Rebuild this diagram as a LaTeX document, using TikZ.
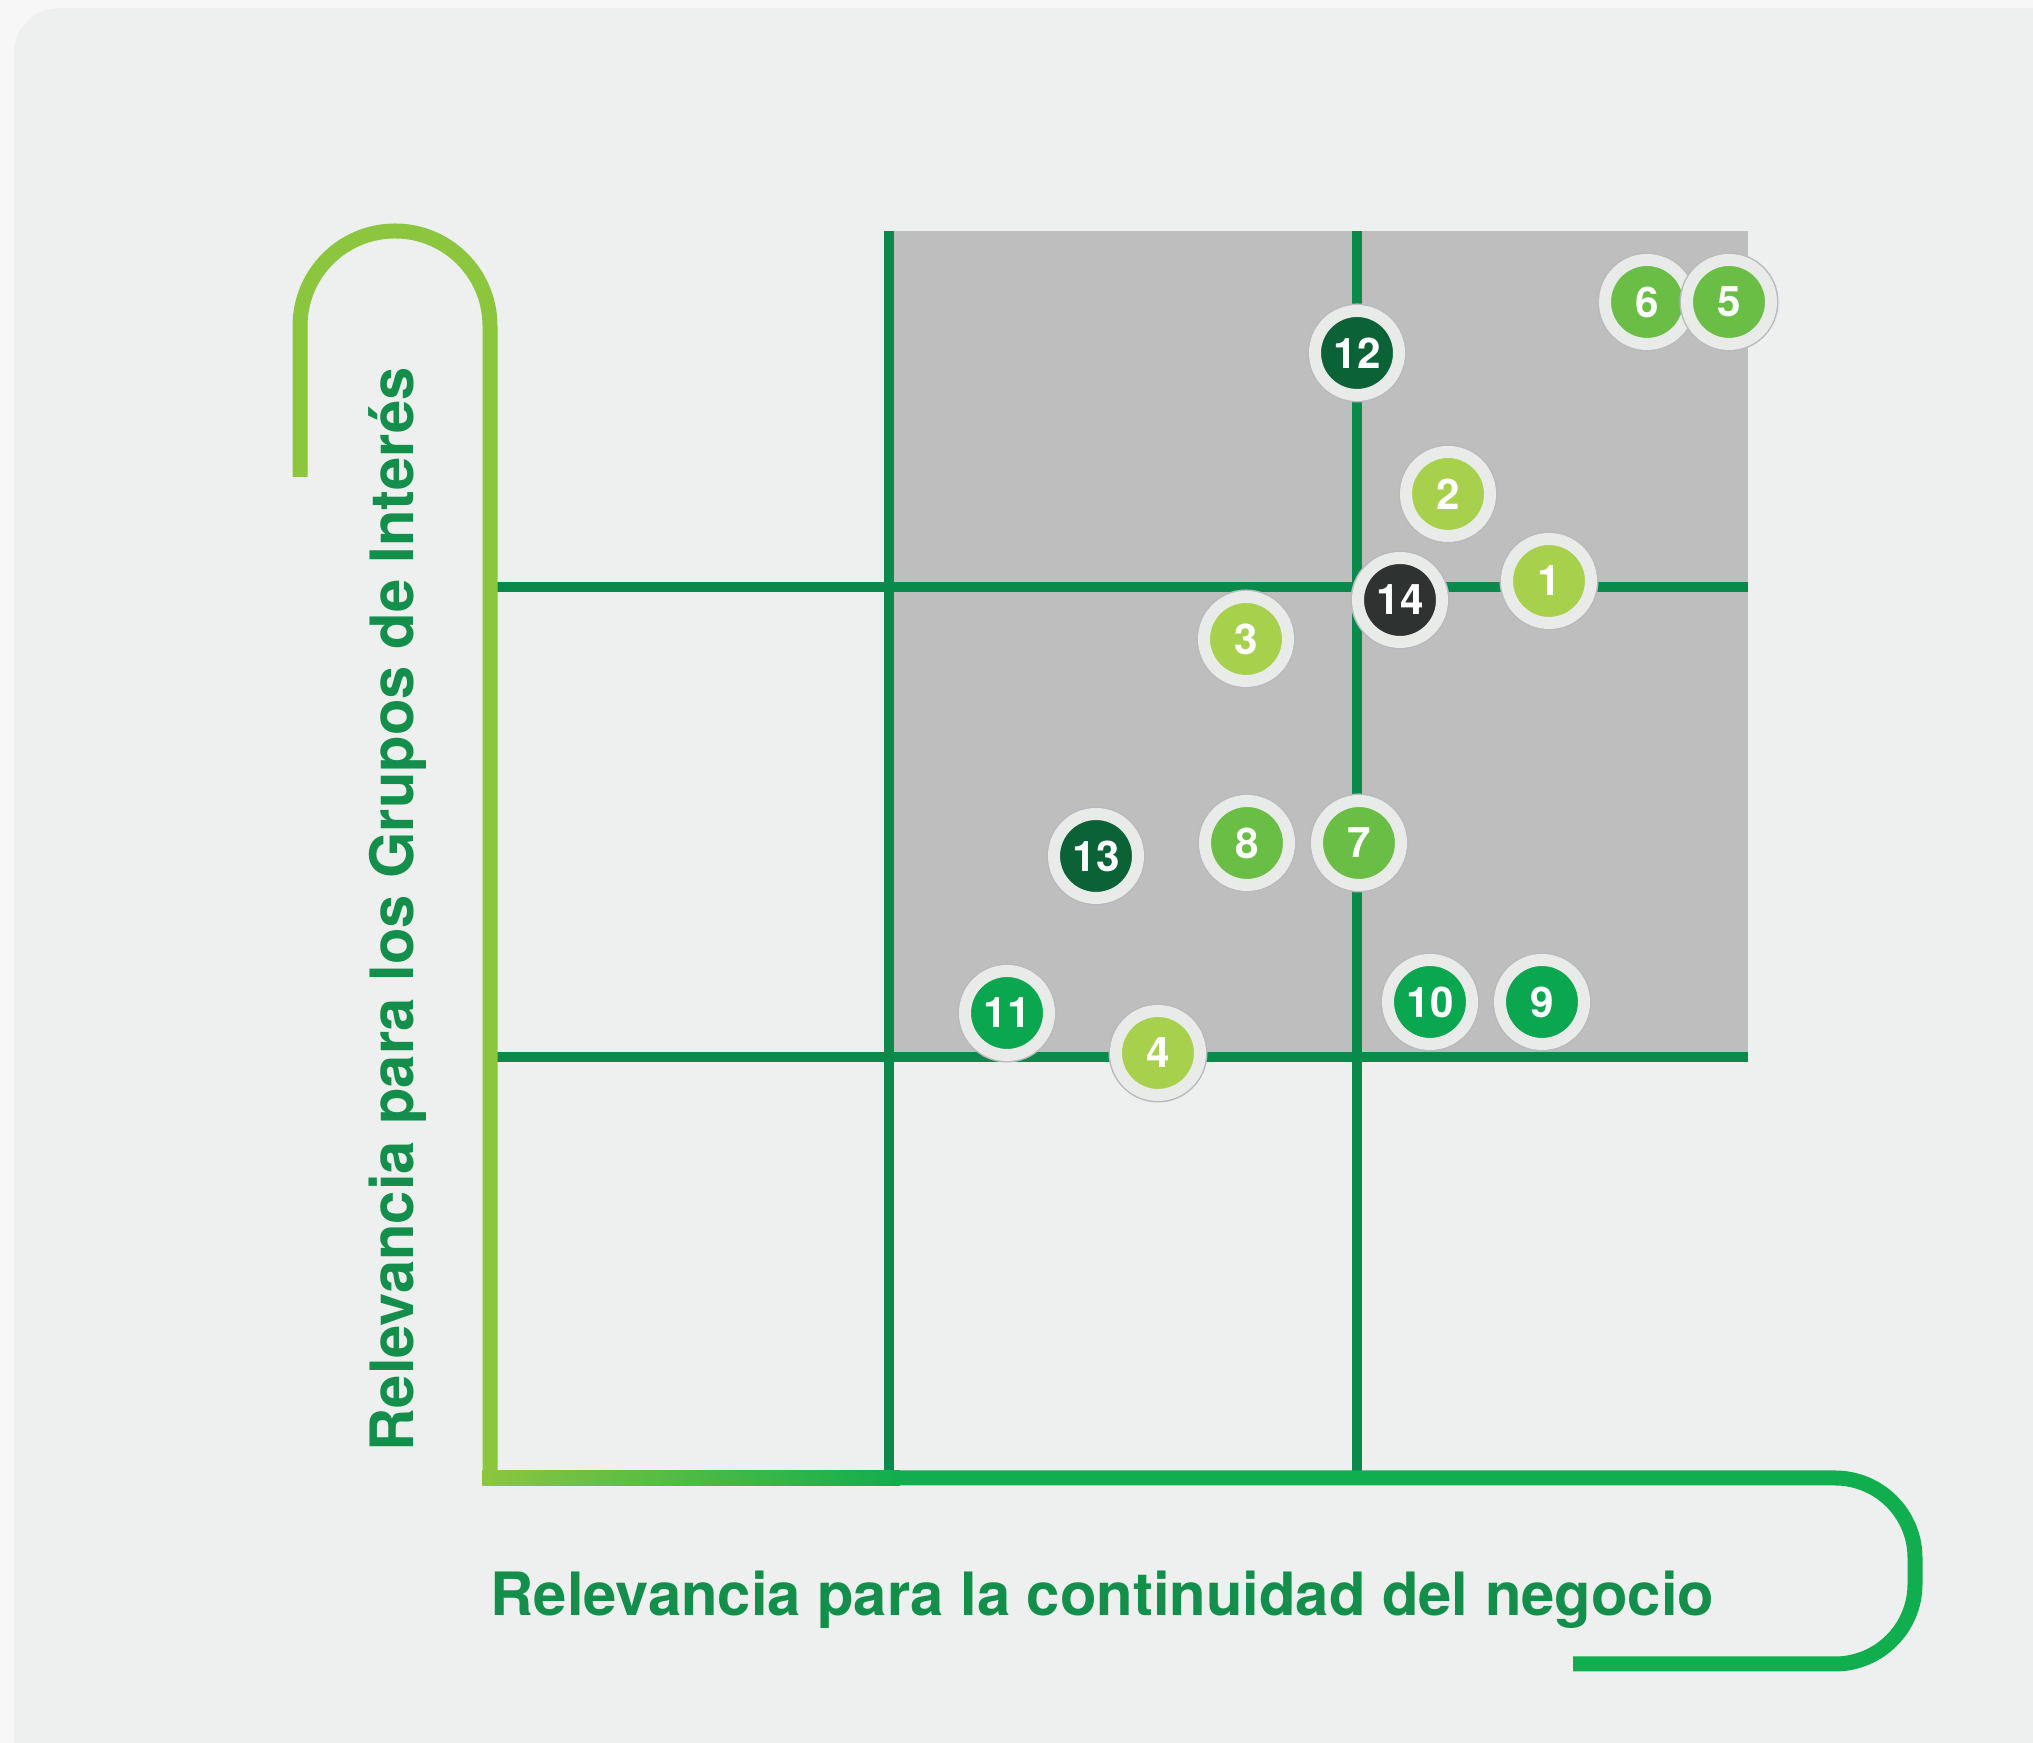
\documentclass[tikz,border=0pt]{standalone}
\usepackage{fontspec}
\setmainfont{TeX Gyre Heros}
\usepackage{tikz}
\usetikzlibrary{positioning}
\definecolor{pagec}{HTML}{F7F7F7}
\definecolor{panelc}{HTML}{EEF0EF}
\definecolor{zonec}{HTML}{BEBEBE}
\definecolor{gridc}{HTML}{0A8A4A}
\definecolor{ylinec}{HTML}{8CC63F}
\definecolor{xlinec}{HTML}{10AE4E}
\definecolor{labelc}{HTML}{138F4B}
\definecolor{ringc}{HTML}{E9EBE9}
\definecolor{ringedge}{HTML}{B9B9C0}
\definecolor{lightc}{HTML}{A7D04C}
\definecolor{midc}{HTML}{6BBE45}
\definecolor{greenc}{HTML}{0AA650}
\definecolor{darkc}{HTML}{0A6236}
\definecolor{grayc}{HTML}{2E3230}

\begin{document}
\begin{tikzpicture}[x=0.1mm, y=0.1mm,
  grid/.style={draw=gridc, line width=1mm},
  axisline/.style={line width=1.5mm},
  axislabel/.style={inner sep=0, text=labelc, font=\bfseries\fontsize{17pt}{20pt}\selectfont},
  bubble/.style={circle, fill=#1, minimum size=8.4mm, inner sep=0, draw=ringc, line width=1.2mm,
    preaction={draw=ringedge, line width=1.5mm}, text=white, font=\bfseries\fontsize{12pt}{14pt}\selectfont}]
\useasboundingbox (0,0) rectangle (2033,1743);
\fill[pagec] (0,0) rectangle (2033,1743);
\fill[panelc, rounded corners=4.5mm] (14,1735) rectangle (2100,-50);
\fill[zonec] (889,685) rectangle (1748,1512);
\draw[grid] (889,267) -- (889,1512);
\draw[grid] (1357,267) -- (1357,1512);
\draw[grid] (497,1156) -- (1748,1156);
\draw[grid] (497,686) -- (1748,686);
\coordinate (origin) at (490,265);
\draw[axisline, draw=ylinec] ([yshift=-0.75mm] origin) -- (490,1417) arc[start angle=0, end angle=180, radius=9.5mm] -- (300,1266);
\shade[left color=ylinec, right color=xlinec] (482.5,257.5) rectangle (900,272.5);
\draw[axisline, draw=xlinec, rounded corners=8mm] (899,265) -- (1915,265) -- (1915,79) -- (1573,79);
\node[axislabel, anchor=base west] (xlabel) at (490,127) {Relevancia para la continuidad del negocio};
\node[axislabel, rotate=90, anchor=base west] (ylabel) at (413,291) {Relevancia para los Grupos de Interés};
\node[bubble=lightc] (b1) at (1549,1162) {1};
\node[bubble=lightc] (b2) at (1448,1249) {2};
\node[bubble=lightc] (b3) at (1246,1104) {3};
\node[bubble=lightc] (b4) at (1158,690) {4};
\node[bubble=midc] (b6) at (1647,1441) {6};
\node[bubble=midc] (b5) at (1729,1441) {5};
\node[bubble=midc] (b7) at (1359,900) {7};
\node[bubble=midc] (b8) at (1247,900) {8};
\node[bubble=greenc] (b9) at (1542,741) {9};
\node[bubble=greenc] (b10) at (1430,741) {10};
\node[bubble=greenc] (b11) at (1007,730) {11};
\node[bubble=darkc] (b12) at (1357,1390) {12};
\node[bubble=darkc] (b13) at (1096,887) {13};
\node[bubble=grayc] (b14) at (1400,1143) {14};
\end{tikzpicture}
\end{document}
